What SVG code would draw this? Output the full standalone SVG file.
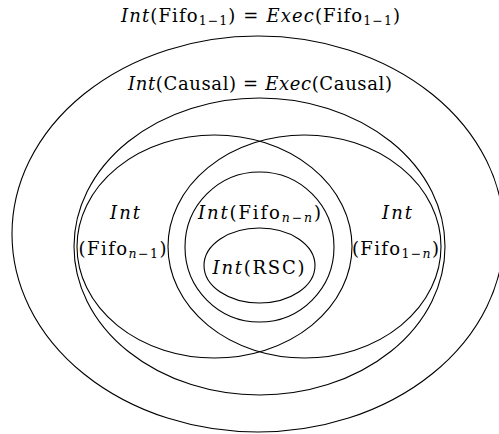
<svg xmlns="http://www.w3.org/2000/svg" width="499" height="434" viewBox="0 0 499 434">
<style>
.e{fill:none;stroke:#000;stroke-width:1.1}
.t{font-family:"DejaVu Serif",serif;font-size:18px;fill:#000;text-anchor:middle}
.i{font-style:italic}
.s{font-size:12.5px}
</style>
<rect width="499" height="434" fill="#fff"/>
<g id="outer"><ellipse class="e" cx="258" cy="234" rx="246" ry="198"/></g>
<g id="causal"><ellipse class="e" cx="259.5" cy="246.5" rx="185.5" ry="148.5"/></g>
<g id="fifo_n1"><ellipse class="e" cx="214.5" cy="246.5" rx="137.5" ry="111.5"/></g>
<g id="fifo_1n"><ellipse class="e" cx="304.5" cy="246.5" rx="136.5" ry="111.5"/></g>
<g id="fifo_nn"><ellipse class="e" cx="259.5" cy="247" rx="74.5" ry="75"/></g>
<g id="rsc"><ellipse class="e" cx="259.5" cy="265.5" rx="55.5" ry="37.5"/></g>
<g id="connectors"></g>
<g id="labels">
<text class="t" x="260.5" y="21.5" textLength="279" lengthAdjust="spacing"><tspan class="i">Int</tspan>(Fifo<tspan class="s" dy="3">1−1</tspan><tspan dy="-3">) = </tspan><tspan class="i">Exec</tspan>(Fifo<tspan class="s" dy="3">1−1</tspan><tspan dy="-3">)</tspan></text>
<text class="t" x="260" y="89.5" textLength="264" lengthAdjust="spacing"><tspan class="i">Int</tspan>(Causal) = <tspan class="i">Exec</tspan>(Causal)</text>
<text class="t i" x="125" y="219" textLength="30" lengthAdjust="spacing">Int</text>
<text class="t" x="122.5" y="255" textLength="88" lengthAdjust="spacing">(Fifo<tspan class="s i" dy="3">n</tspan><tspan class="s">−1</tspan><tspan dy="-3">)</tspan></text>
<text class="t" x="259.5" y="219" textLength="123" lengthAdjust="spacing"><tspan class="i">Int</tspan>(Fifo<tspan class="s i" dy="3">n</tspan><tspan class="s">−</tspan><tspan class="s i">n</tspan><tspan dy="-3">)</tspan></text>
<text class="t" x="258.5" y="274" textLength="92" lengthAdjust="spacing"><tspan class="i">Int</tspan>(RSC)</text>
<text class="t i" x="397" y="219" textLength="30" lengthAdjust="spacing">Int</text>
<text class="t" x="395.5" y="255" textLength="87" lengthAdjust="spacing">(Fifo<tspan class="s" dy="3">1−</tspan><tspan class="s i">n</tspan><tspan dy="-3">)</tspan></text>
</g>
</svg>
